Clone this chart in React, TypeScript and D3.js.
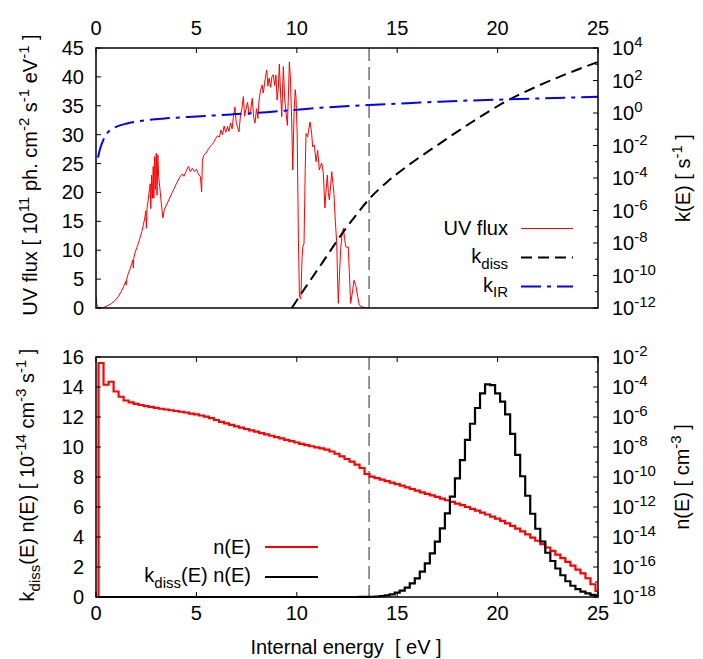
import React from 'react';
import * as d3 from 'd3';

// ---------- data ----------
const xTicks = [0, 5, 10, 15, 20, 25];
const fluxTicks = [0, 5, 10, 15, 20, 25, 30, 35, 40, 45];
const kTickExps = [4, 2, 0, -2, -4, -6, -8, -10, -12];
const kMinorExps = [3, 1, -1, -3, -5, -7, -9, -11];
const kdnTicks = [0, 2, 4, 6, 8, 10, 12, 14, 16];
const nTickExps = [-2, -4, -6, -8, -10, -12, -14, -16, -18];
const nMinorExps = [-3, -5, -7, -9, -11, -13, -15, -17];
const ionEnergy = 13.6;

// UV flux [1e11 ph cm-2 s-1 eV-1] vs E [eV]
const uvE = [0, 0.04, 0.12, 0.3, 0.45, 0.6, 0.78, 0.95, 1.11, 1.25, 1.4, 1.48, 1.5, 1.53, 1.61, 1.7, 1.78, 1.83, 1.86, 1.88, 1.94, 2.03, 2.11, 2.2, 2.28, 2.36, 2.44, 2.48, 2.51, 2.54, 2.6, 2.66, 2.7, 2.73, 2.77, 2.81, 2.85, 2.88, 2.92, 2.96, 3.0, 3.04, 3.08, 3.12, 3.18, 3.25, 3.33, 3.4, 3.6, 3.8, 4.0, 4.18, 4.3, 4.38, 4.5, 4.6, 4.7, 4.8, 4.9, 5.0, 5.1, 5.2, 5.26, 5.3, 5.36, 5.48, 5.58, 5.68, 5.78, 5.85, 5.95, 6.05, 6.15, 6.22, 6.3, 6.38, 6.46, 6.55, 6.62, 6.7, 6.78, 6.84, 6.92, 6.98, 7.05, 7.12, 7.2, 7.27, 7.34, 7.4, 7.48, 7.55, 7.62, 7.7, 7.78, 7.85, 7.92, 7.99, 8.06, 8.12, 8.2, 8.27, 8.33, 8.42, 8.5, 8.56, 8.62, 8.7, 8.76, 8.83, 8.9, 8.96, 9.02, 9.08, 9.13, 9.2, 9.25, 9.33, 9.4, 9.46, 9.53, 9.58, 9.63, 9.68, 9.74, 9.8, 9.86, 9.92, 9.96, 10.02, 10.08, 10.13, 10.2, 10.26, 10.3, 10.36, 10.42, 10.46, 10.54, 10.6, 10.66, 10.74, 10.79, 10.87, 10.96, 11.04, 11.12, 11.18, 11.24, 11.32, 11.4, 11.46, 11.52, 11.57, 11.62, 11.68, 11.74, 11.8, 11.85, 11.92, 11.99, 12.03, 12.07, 12.12, 12.19, 12.26, 12.32, 12.38, 12.44, 12.5, 12.56, 12.62, 12.68, 12.76, 12.85, 12.95, 13.03, 13.11, 13.2, 13.31, 13.45, 13.6];
const uvF = [2.0, 0.6, 0.1, 0.02, 0.2, 0.45, 0.8, 1.3, 1.96, 2.8, 3.9, 4.6, 4.0, 5.0, 6.0, 6.8, 7.7, 8.3, 6.9, 8.6, 9.5, 10.4, 11.2, 12.2, 13.2, 14.4, 15.8, 16.8, 13.8, 17.2, 18.7, 20.5, 21.5, 17.2, 23.0, 19.0, 24.5, 19.0, 26.2, 20.5, 26.8, 19.5, 26.5, 22.7, 20.8, 18.2, 15.6, 17.0, 18.5, 20.0, 21.5, 22.7, 23.2, 22.8, 23.8, 24.5, 23.6, 24.2, 23.6, 24.0, 23.2, 22.7, 20.1, 25.5, 26.4, 26.8, 27.4, 27.9, 28.3, 28.6, 29.3, 29.8, 29.6, 30.8, 30.0, 31.5, 30.4, 31.4, 30.6, 32.0, 31.0, 33.0, 34.8, 32.2, 31.3, 30.5, 33.5, 34.6, 36.6, 33.2, 34.6, 35.6, 33.4, 34.2, 36.3, 33.0, 32.0, 34.5, 32.8, 36.0, 37.8, 38.6, 37.2, 39.5, 41.2, 38.4, 39.8, 38.2, 40.0, 40.4, 38.5, 40.3, 36.0, 38.0, 42.2, 36.5, 33.1, 41.8, 36.0, 34.0, 31.6, 36.5, 42.6, 40.0, 33.0, 23.9, 33.5, 37.8, 36.5, 30.0, 12.0, 2.0, 1.6, 8.5, 10.6, 11.2, 24.0, 30.2, 29.6, 31.0, 32.2, 30.2, 27.9, 28.2, 25.3, 27.3, 23.9, 24.6, 25.1, 23.4, 17.3, 20.5, 23.0, 20.0, 18.7, 21.0, 23.6, 21.5, 19.8, 15.0, 11.2, 5.0, 0.8, 5.5, 10.3, 13.0, 13.8, 12.0, 10.6, 10.5, 10.6, 6.0, 0.8, 2.5, 4.8, 3.7, 2.0, 0.5, 0.3, 0.1, 0.02, 0];

// k_diss(E) [s-1]
const kDissE = [9.75, 10.5, 11.3, 12.3, 13.0, 13.6, 14.5, 15.5, 17.0, 19.0, 20.5, 22.0, 23.5, 25.0];
const kDiss = [1e-12, 2.45e-11, 6.9e-10, 4.5e-8, 6.3e-7, 5.0e-6, 5.75e-5, 5.4e-4, 0.0105, 0.457, 5.9, 45.7, 275, 1380];

// k_IR(E) [s-1]
const kIRE = [0.1, 0.2, 0.35, 0.5, 0.7, 1.0, 1.5, 2.2, 3.5, 5.2, 6.8, 8.5, 10.0, 11.2, 12.2, 13.6, 15.5, 17.1, 20.5, 25.0];
const kIR = [1.8e-3, 6e-3, 0.02, 0.045, 0.09, 0.14, 0.22, 0.32, 0.47, 0.63, 0.83, 1.12, 1.6, 2.1, 2.5, 3.1, 4.0, 5.0, 6.9, 10.0];

// histogram bins: start energies 0.125 + 0.25k, k = 0..99
const binStart = 0.125;
const binWidth = 0.25;
// log10 n(E) [cm-3]
const nLog10 = [-2.4, -3.85, -3.65, -4.3, -4.65, -4.9, -5.03, -5.12, -5.2, -5.27,
  -5.33, -5.39, -5.45, -5.5, -5.55, -5.6, -5.65, -5.7, -5.77, -5.83,
  -5.9, -5.98, -6.08, -6.2, -6.32, -6.43, -6.53, -6.62, -6.71, -6.8,
  -6.89, -6.98, -7.07, -7.16, -7.25, -7.34, -7.43, -7.52, -7.61, -7.7,
  -7.79, -7.87, -7.95, -8.02, -8.09, -8.18, -8.3, -8.45, -8.62, -8.8,
  -8.98, -9.18, -9.4, -9.8, -9.98, -10.08, -10.18, -10.28, -10.38, -10.48,
  -10.58, -10.69, -10.8, -10.91, -11.02, -11.12, -11.23, -11.33, -11.44, -11.55,
  -11.66, -11.77, -11.88, -12.0, -12.12, -12.24, -12.37, -12.5, -12.64, -12.78,
  -12.93, -13.09, -13.26, -13.44, -13.63, -13.83, -14.04, -14.25, -14.47, -14.7,
  -14.93, -15.17, -15.41, -15.66, -15.91, -16.17, -16.43, -16.75, -17.15, -17.6];
// k_diss(E) n(E) [1e-14 cm-3 s-1]
const kdn = [0, 0, 0, 0, 0, 0, 0, 0, 0, 0,
  0, 0, 0, 0, 0, 0, 0, 0, 0, 0,
  0, 0, 0, 0, 0, 0, 0, 0, 0, 0,
  0, 0, 0, 0, 0, 0, 0, 0, 0, 0,
  0, 0, 0, 0, 0, 0, 0, 0, 0, 0,
  0, 0.001, 0.003, 0.008, 0.018, 0.035, 0.06, 0.11, 0.18, 0.29,
  0.42, 0.62, 0.91, 1.24, 1.69, 2.24, 2.91, 3.69, 4.58, 5.58,
  6.69, 7.91, 9.13, 10.47, 11.55, 12.6, 13.58, 14.18, 14.12, 13.58,
  13.02, 12.18, 10.87, 9.47, 8.05, 6.75, 5.55, 4.55, 3.7, 2.95,
  2.4, 1.9, 1.45, 1.05, 0.75, 0.52, 0.36, 0.24, 0.14, 0.07];

// ---------- layout ----------
const W = 703, H = 659;
const L = 96, R = 598;
const T0 = 48, T1 = 308;
const B0 = 357, B1 = 597;
const FS = 20, SS = 15;
const FONT = '"Liberation Sans", Arial, Helvetica, sans-serif';

const x = d3.scaleLinear().domain([0, 25]).range([L, R]);
const yFlux = d3.scaleLinear().domain([0, 45]).range([T1, T0]);
const yK = d3.scaleLog().domain([1e-12, 1e4]).range([T1, T0]);
const yKdn = d3.scaleLinear().domain([0, 16]).range([B1, B0]);
const yN = d3.scaleLog().domain([1e-18, 1e-2]).range([B1, B0]);

type Seg = { t: string; k?: 'sup' | 'sub' };

function Rich({ segs, x: tx, y: ty, anchor = 'start', rotate = false }: { segs: Seg[]; x: number; y: number; anchor?: string; rotate?: boolean }) {
  let cur = 0;
  const spans = segs.map((s, i) => {
    const target = s.k === 'sup' ? -0.4 * FS : s.k === 'sub' ? 0.28 * FS : 0;
    const dy = target - cur;
    cur = target;
    return (
      <tspan key={i} dy={dy} fontSize={s.k ? SS : FS}>{s.t}</tspan>
    );
  });
  return (
    <text
      x={rotate ? 0 : tx}
      y={rotate ? 0 : ty}
      transform={rotate ? `translate(${tx},${ty}) rotate(-90)` : undefined}
      textAnchor={anchor}
      fontSize={FS}
      fontFamily={FONT}
      fill="#000"
      style={{ whiteSpace: 'pre' }}
    >
      {spans}
    </text>
  );
}

export default function App() {
  const uvPath = d3.line<number>().x((_, i) => x(uvE[i])).y((d) => yFlux(d))(uvF) || '';
  const kDissPath = d3.line<number>().x((_, i) => x(kDissE[i])).y((d) => yK(d)).curve(d3.curveMonotoneX)(kDiss) || '';
  const kIRPath = d3.line<number>().x((_, i) => x(kIRE[i])).y((d) => yK(d)).curve(d3.curveMonotoneX)(kIR) || '';

  const nPts: [number, number][] = [[binStart, 1e-18]];
  nLog10.forEach((v, i) => nPts.push([binStart + i * binWidth, Math.pow(10, v)]));
  nPts.push([25, Math.pow(10, nLog10[nLog10.length - 1])]);
  const nPath = d3.line<[number, number]>().x((d) => x(d[0])).y((d) => yN(d[1])).curve(d3.curveStepAfter)(nPts) || '';

  const kdnPts: [number, number][] = kdn.map((v, i) => [binStart + i * binWidth, v]);
  kdnPts.push([25, kdn[kdn.length - 1]]);
  const kdnPath = d3.line<[number, number]>().x((d) => x(d[0])).y((d) => yKdn(d[1])).curve(d3.curveStepAfter)(kdnPts) || '';

  const tick = 5, minor = 3;

  return (
    <svg width={W} height={H} style={{ display: 'block', position: 'absolute', left: 0, top: 0 }}>
      <rect width={W} height={H} fill="#fff" />
      <defs>
        <clipPath id="clipTop"><rect x={L} y={T0} width={R - L} height={T1 - T0} /></clipPath>
        <clipPath id="clipBot"><rect x={L} y={B0 - 2} width={R - L + 1} height={B1 - B0 + 3} /></clipPath>
      </defs>

      {/* ---------- TOP PANEL ---------- */}
      <line x1={x(ionEnergy)} x2={x(ionEnergy)} y1={T0} y2={T1} stroke="#707070" strokeWidth={1.5} strokeDasharray="13,6" />
      <g clipPath="url(#clipTop)">
        <path d={uvPath} fill="none" stroke="#ff0000" strokeWidth={1} />
        <path d={kDissPath} fill="none" stroke="#000" strokeWidth={2} strokeDasharray="11,6" />
        <path d={kIRPath} fill="none" stroke="#0000ff" strokeWidth={2} strokeDasharray="20,6,4,6" />
      </g>
      <rect x={L} y={T0} width={R - L} height={T1 - T0} fill="none" stroke="#000" strokeWidth={1.5} />
      {fluxTicks.map((t) => (
        <g key={'f' + t}>
          <line x1={L} x2={L + tick} y1={yFlux(t)} y2={yFlux(t)} stroke="#000" strokeWidth={1} />
          <text x={84} y={yFlux(t) + 7} textAnchor="end" fontSize={FS} fontFamily={FONT}>{t}</text>
        </g>
      ))}
      {xTicks.map((t) => (
        <g key={'xt' + t}>
          <line x1={x(t)} x2={x(t)} y1={T0} y2={T0 + tick} stroke="#000" strokeWidth={1} />
          <text x={x(t)} y={35} textAnchor="middle" fontSize={FS} fontFamily={FONT}>{t}</text>
        </g>
      ))}
      {kTickExps.map((e) => (
        <g key={'k' + e}>
          <line x1={R - tick} x2={R} y1={yK(Math.pow(10, e))} y2={yK(Math.pow(10, e))} stroke="#000" strokeWidth={1} />
          <Rich x={612} y={yK(Math.pow(10, e)) + 7} segs={[{ t: '10' }, { t: String(e), k: 'sup' }]} />
        </g>
      ))}
      {kMinorExps.map((e) => (
        <line key={'km' + e} x1={R - minor} x2={R} y1={yK(Math.pow(10, e))} y2={yK(Math.pow(10, e))} stroke="#000" strokeWidth={1} />
      ))}
      <Rich rotate x={37} y={(T0 + T1) / 2 - 3} anchor="middle"
        segs={[{ t: 'UV flux [ 10' }, { t: '11', k: 'sup' }, { t: ' ph. cm' }, { t: '-2', k: 'sup' }, { t: ' s' }, { t: '-1', k: 'sup' }, { t: ' eV' }, { t: '-1', k: 'sup' }, { t: ' ]' }]} />
      <Rich rotate x={690} y={(T0 + T1) / 2} anchor="middle"
        segs={[{ t: 'k(E) [ s' }, { t: '-1', k: 'sup' }, { t: ' ]' }]} />

      {/* top legend */}
      <Rich x={508} y={235} anchor="end" segs={[{ t: 'UV flux' }]} />
      <line x1={521} x2={573} y1={228.5} y2={228.5} stroke="#ff0000" strokeWidth={1} />
      <Rich x={508} y={263} anchor="end" segs={[{ t: 'k' }, { t: 'diss', k: 'sub' }]} />
      <line x1={521} x2={573} y1={257.5} y2={257.5} stroke="#000" strokeWidth={2} strokeDasharray="11,6" />
      <Rich x={508} y={291.5} anchor="end" segs={[{ t: 'k' }, { t: 'IR', k: 'sub' }]} />
      <line x1={521} x2={573} y1={286.5} y2={286.5} stroke="#0000ff" strokeWidth={2} strokeDasharray="20,6,4,6" />

      {/* ---------- BOTTOM PANEL ---------- */}
      <line x1={x(ionEnergy)} x2={x(ionEnergy)} y1={B0} y2={B1} stroke="#707070" strokeWidth={1.5} strokeDasharray="13,6" />
      <g clipPath="url(#clipBot)">
        <path d={nPath} fill="none" stroke="#ff0000" strokeWidth={2.2} />
        <path d={kdnPath} fill="none" stroke="#000" strokeWidth={2.2} />
      </g>
      <rect x={L} y={B0} width={R - L} height={B1 - B0} fill="none" stroke="#000" strokeWidth={1.5} />
      {kdnTicks.map((t) => (
        <g key={'b' + t}>
          <line x1={L} x2={L + tick} y1={yKdn(t)} y2={yKdn(t)} stroke="#000" strokeWidth={1} />
          <text x={84} y={yKdn(t) + 7} textAnchor="end" fontSize={FS} fontFamily={FONT}>{t}</text>
        </g>
      ))}
      {xTicks.map((t) => (
        <g key={'xb' + t}>
          <line x1={x(t)} x2={x(t)} y1={B1} y2={B1 - tick} stroke="#000" strokeWidth={1} />
          <line x1={x(t)} x2={x(t)} y1={B0} y2={B0 + tick} stroke="#000" strokeWidth={1} />
          <text x={x(t)} y={620} textAnchor="middle" fontSize={FS} fontFamily={FONT}>{t}</text>
        </g>
      ))}
      {nTickExps.map((e) => (
        <g key={'n' + e}>
          <line x1={R - tick} x2={R} y1={yN(Math.pow(10, e))} y2={yN(Math.pow(10, e))} stroke="#000" strokeWidth={1} />
          <Rich x={612} y={yN(Math.pow(10, e)) + 7} segs={[{ t: '10' }, { t: String(e), k: 'sup' }]} />
        </g>
      ))}
      {nMinorExps.map((e) => (
        <line key={'nm' + e} x1={R - minor} x2={R} y1={yN(Math.pow(10, e))} y2={yN(Math.pow(10, e))} stroke="#000" strokeWidth={1} />
      ))}
      <Rich rotate x={34} y={(B0 + B1) / 2 - 2} anchor="middle"
        segs={[{ t: 'k' }, { t: 'diss', k: 'sub' }, { t: '(E) n(E) [ 10' }, { t: '-14', k: 'sup' }, { t: ' cm' }, { t: '-3', k: 'sup' }, { t: ' s' }, { t: '-1', k: 'sup' }, { t: ' ]' }]} />
      <Rich rotate x={689} y={(B0 + B1) / 2} anchor="middle"
        segs={[{ t: 'n(E) [ cm' }, { t: '-3', k: 'sup' }, { t: ' ]' }]} />
      <Rich x={346} y={654} anchor="middle" segs={[{ t: 'Internal energy  [ eV ]' }]} />

      {/* bottom legend */}
      <Rich x={251} y={554} anchor="end" segs={[{ t: 'n(E)' }]} />
      <line x1={265} x2={318} y1={547} y2={547} stroke="#ff0000" strokeWidth={2.2} />
      <Rich x={251} y={582} anchor="end" segs={[{ t: 'k' }, { t: 'diss', k: 'sub' }, { t: '(E) n(E)' }]} />
      <line x1={265} x2={318} y1={577} y2={577} stroke="#000" strokeWidth={2.2} />
    </svg>
  );
}
